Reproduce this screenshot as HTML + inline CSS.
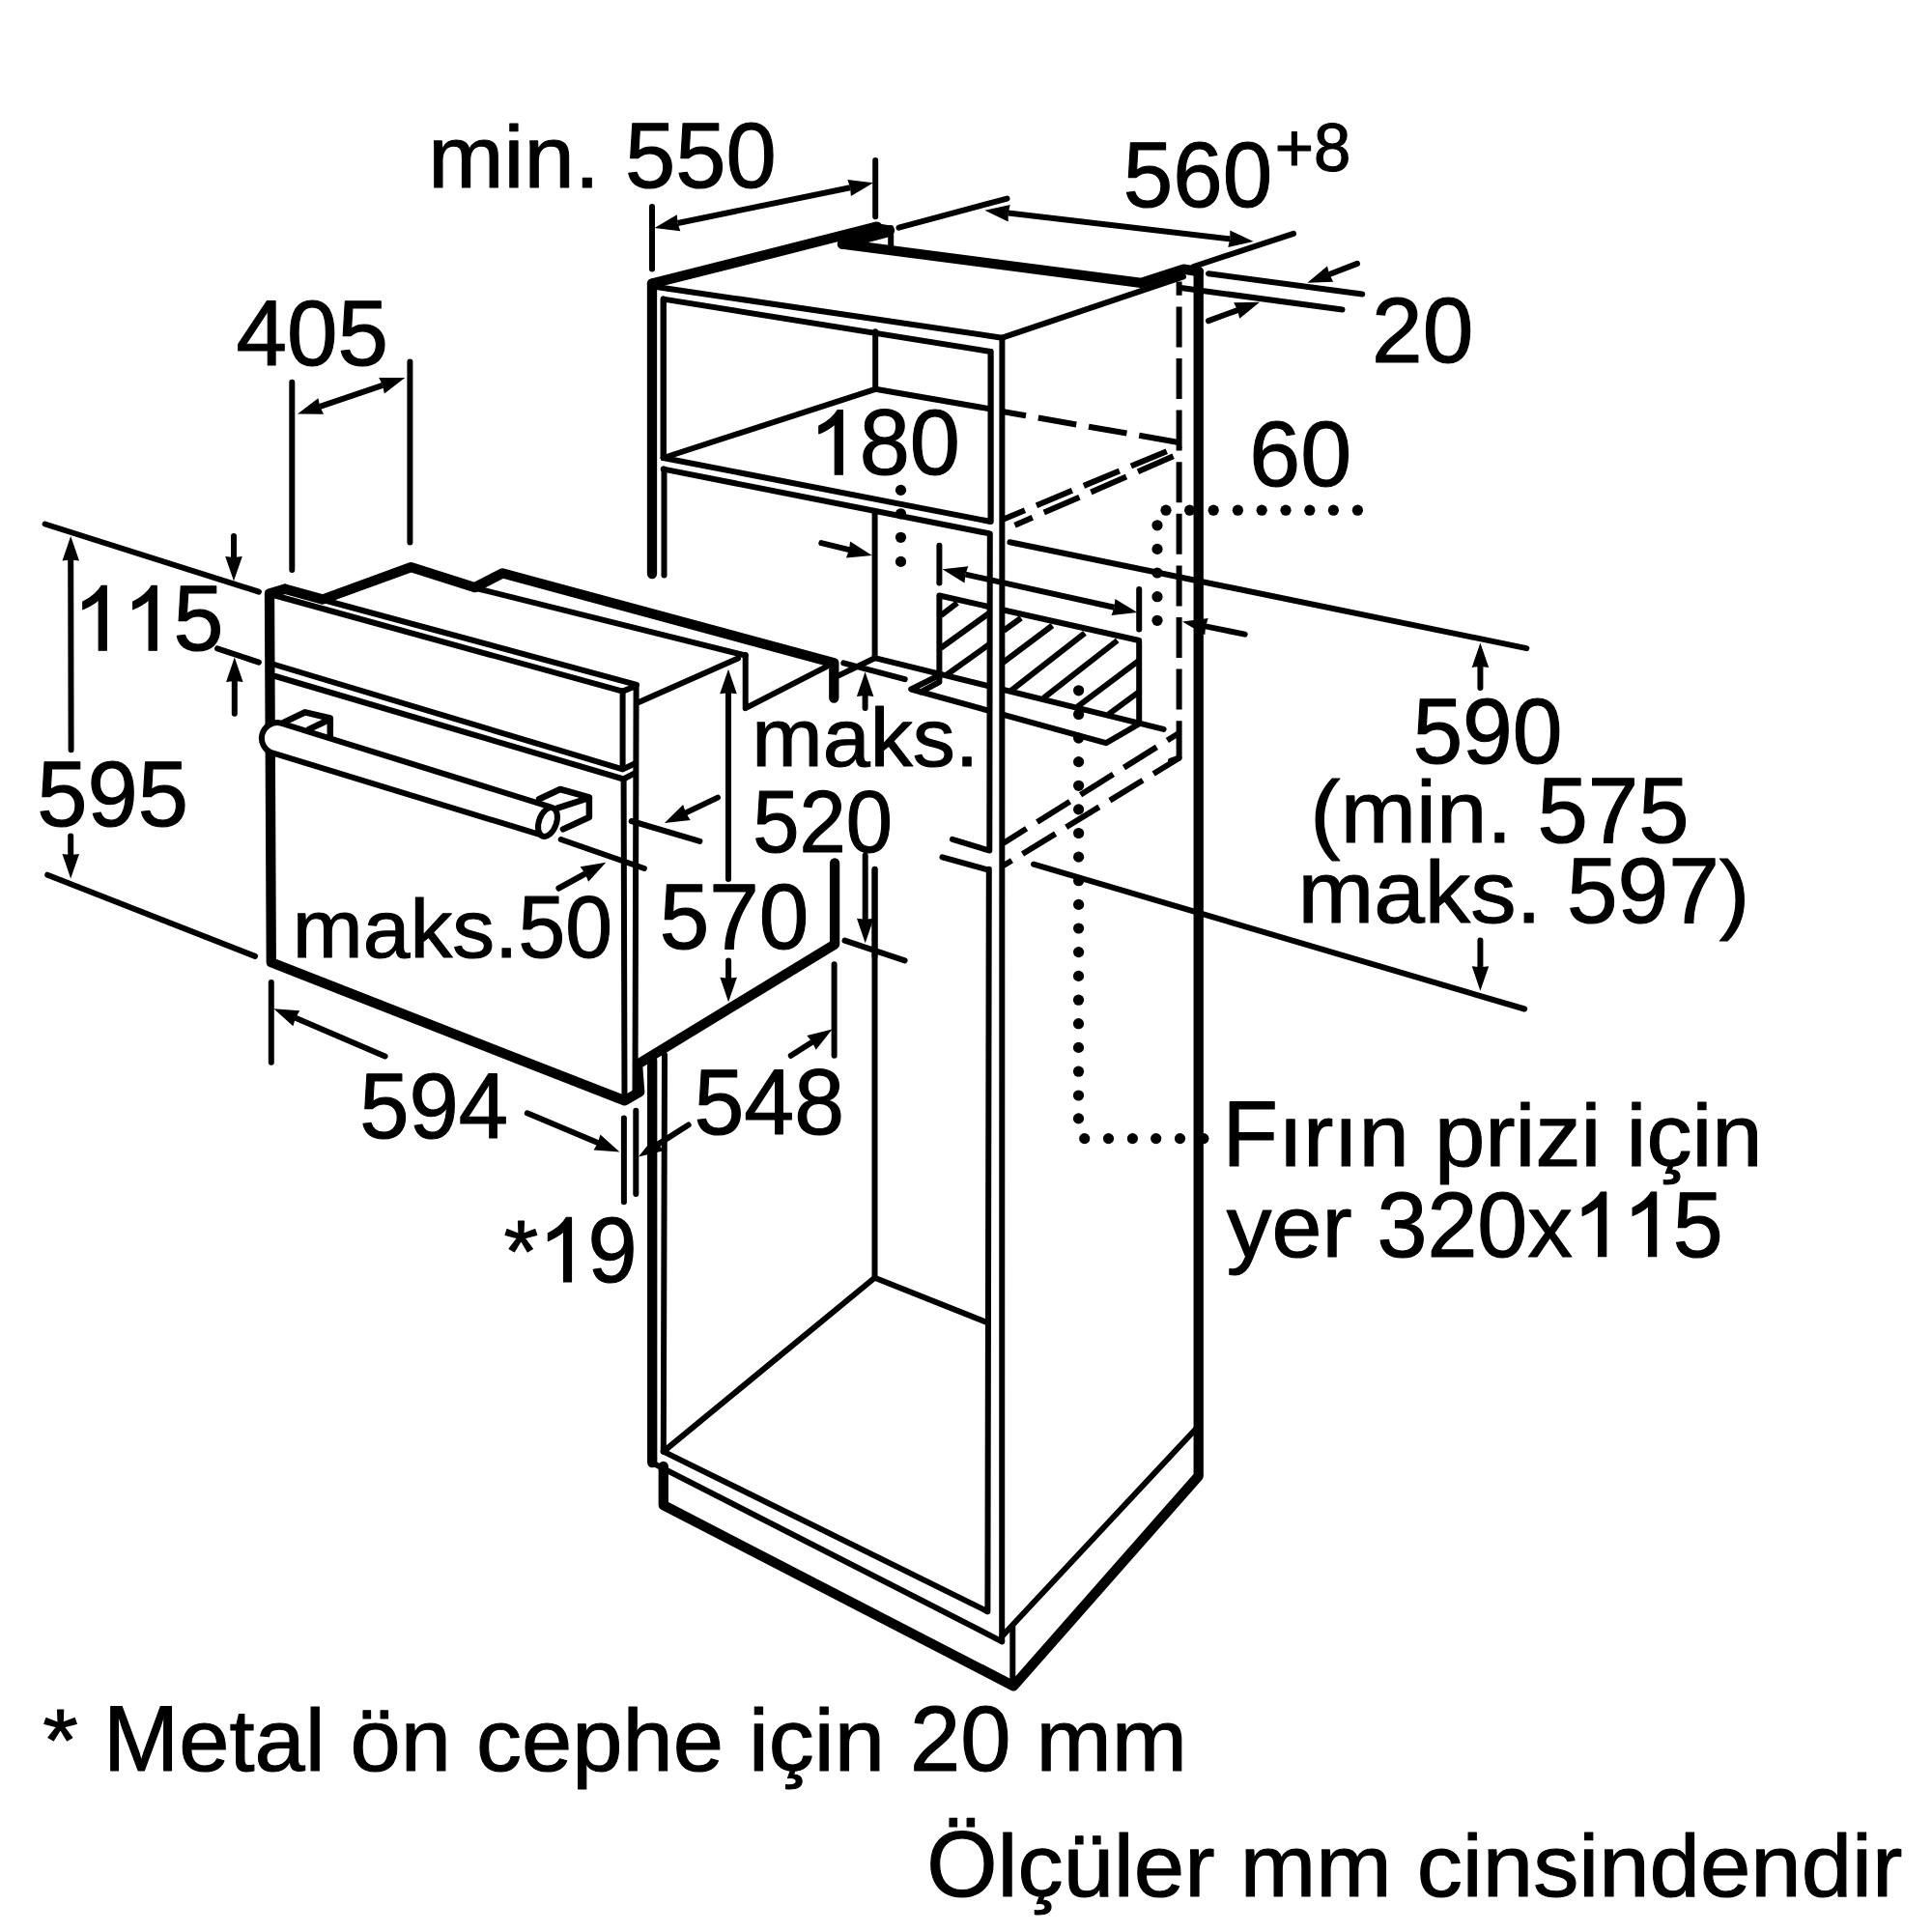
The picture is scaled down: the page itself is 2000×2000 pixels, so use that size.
<!DOCTYPE html>
<html><head><meta charset="utf-8"><title>Oven installation dimensions</title>
<style>
html,body{margin:0;padding:0;background:#fff;}
body{width:2000px;height:2000px;overflow:hidden;}
svg{display:block;}
text{font-family:"Liberation Sans",sans-serif;fill:#000;font-kerning:none;font-variant-ligatures:none;letter-spacing:0;}
</style></head><body>
<svg width="2000" height="2000" viewBox="0 0 2000 2000" stroke="#000" fill="none">
<rect x="0" y="0" width="2000" height="2000" fill="#fff" stroke="none"/>
<line x1="675" y1="293.6" x2="908" y2="234.6" stroke-width="10.3" stroke-linecap="round" />
<polyline points="872,252.7 920,240" fill="none" stroke-width="10.3" stroke-linejoin="round" stroke-linecap="round" />
<line x1="906" y1="236" x2="921" y2="238.5" stroke-width="10.3" stroke-linecap="round" />
<line x1="922.2" y1="236" x2="922.2" y2="255" stroke-width="6.0" stroke-linecap="round" />
<polyline points="872,252.7 1181.2,292.8 1225.2,278.6 1241,281.2" fill="none" stroke-width="10.3" stroke-linejoin="round" stroke-linecap="round" />
<polyline points="1240.7,281.2 1240.7,1528 1049.2,1745.3 686.8,1558.2 686.8,1518" fill="none" stroke-width="10.3" stroke-linejoin="round" stroke-linecap="round" />
<line x1="675" y1="293.6" x2="675" y2="594" stroke-width="10.3" stroke-linecap="round" />
<line x1="675.2" y1="1098" x2="675.2" y2="1514" stroke-width="10.3" stroke-linecap="round" />
<line x1="686.8" y1="309.6" x2="686.8" y2="474" stroke-width="6.0" stroke-linecap="round" />
<line x1="687.5" y1="485.6" x2="687.5" y2="595.5" stroke-width="6.0" stroke-linecap="round" />
<line x1="688" y1="1092" x2="686.8" y2="1502.6" stroke-width="6.0" stroke-linecap="round" />
<polyline points="677.6,296.7 1037.4,349.7 1225,286.3" fill="none" stroke-width="6.0" stroke-linejoin="round" stroke-linecap="round" />
<polyline points="686.7,474 686.7,309.6 1025.7,364 1025.7,540" fill="none" stroke-width="6.0" stroke-linejoin="round" stroke-linecap="round" />
<line x1="906.2" y1="343.3" x2="906.2" y2="402.8" stroke-width="6.0" stroke-linecap="round" />
<polyline points="686.7,474 906.2,402.8 1025.7,423.5" fill="none" stroke-width="6.0" stroke-linejoin="round" stroke-linecap="round" />
<line x1="1037.4" y1="426" x2="1222.6" y2="458.4" stroke-width="6.0" stroke-linecap="butt" stroke-dasharray="40 13" stroke-dashoffset="15"/>
<line x1="686.7" y1="474" x2="1025.7" y2="540" stroke-width="6.0" stroke-linecap="round" />
<line x1="686.7" y1="485.6" x2="1025.7" y2="552.6" stroke-width="6.0" stroke-linecap="round" />
<line x1="1038.8" y1="537.4" x2="1222.6" y2="461" stroke-width="6.0" stroke-linecap="butt" stroke-dasharray="40 13" stroke-dashoffset="16"/>
<line x1="1050.5" y1="543.8" x2="1222.6" y2="468.8" stroke-width="6.0" stroke-linecap="butt" stroke-dasharray="40 13" stroke-dashoffset="20"/>
<line x1="1220.6" y1="291.5" x2="1220.6" y2="784.7" stroke-width="6.0" stroke-linecap="butt" stroke-dasharray="42 11.6" stroke-dashoffset="27.7"/>
<line x1="1220.6" y1="784.7" x2="1212" y2="787.5" stroke-width="6.0" stroke-linecap="round" />
<line x1="905.6" y1="531" x2="905.6" y2="681.2" stroke-width="6.0" stroke-linecap="round" />
<line x1="905.6" y1="681.2" x2="1204.6" y2="754.9" stroke-width="6.0" stroke-linecap="round" />
<line x1="905.6" y1="681.2" x2="866" y2="700.4" stroke-width="6.0" stroke-linecap="round" />
<polyline points="972.4,699 943.2,713.5 1145,769.2 1178.7,749.7" fill="none" stroke-width="6.0" stroke-linejoin="round" stroke-linecap="round" />
<polyline points="972.4,699 972.4,706 953,716.3" fill="none" stroke-width="6.0" stroke-linejoin="round" stroke-linecap="round" />
<polyline points="972.4,701 972.4,616.5 1179.2,663 1179.2,747" fill="none" stroke-width="6.0" stroke-linejoin="round" stroke-linecap="round" />
<line x1="974" y1="637.2" x2="991" y2="624.2" stroke-width="6.0" stroke-linecap="butt" />
<line x1="974" y1="670.8" x2="1026" y2="633.3" stroke-width="6.0" stroke-linecap="butt" />
<line x1="979" y1="699.3" x2="1026" y2="665.6" stroke-width="6.0" stroke-linecap="butt" />
<line x1="1039" y1="652.7" x2="1057" y2="639.7" stroke-width="6.0" stroke-linecap="butt" />
<line x1="1037.6" y1="686.3" x2="1089.4" y2="647.5" stroke-width="6.0" stroke-linecap="butt" />
<line x1="1046.7" y1="714.8" x2="1123" y2="655.3" stroke-width="6.0" stroke-linecap="butt" />
<line x1="1080.3" y1="722.6" x2="1156.7" y2="663" stroke-width="6.0" stroke-linecap="butt" />
<line x1="1115.3" y1="731.6" x2="1179.2" y2="683.7" stroke-width="6.0" stroke-linecap="butt" />
<line x1="1147.6" y1="739.4" x2="1179.2" y2="716.1" stroke-width="6.0" stroke-linecap="butt" />
<line x1="985.9" y1="868.8" x2="1022.1" y2="879.9" stroke-width="6.0" stroke-linecap="round" />
<line x1="975.5" y1="887.4" x2="1023.4" y2="900.6" stroke-width="6.0" stroke-linecap="round" />
<line x1="1038.9" y1="872.7" x2="1220.6" y2="758.8" stroke-width="6.0" stroke-linecap="butt" stroke-dasharray="40 13" stroke-dashoffset="12"/>
<line x1="1038.9" y1="896" x2="1220.6" y2="784.7" stroke-width="6.0" stroke-linecap="butt" stroke-dasharray="40 13" stroke-dashoffset="30"/>
<line x1="905.5" y1="899.8" x2="905.5" y2="1323" stroke-width="6.0" stroke-linecap="round" />
<polyline points="686.8,1502.6 905.5,1322.7 1022.4,1369.3" fill="none" stroke-width="6.0" stroke-linejoin="round" stroke-linecap="round" />
<line x1="686.8" y1="1502.6" x2="1022.4" y2="1668.2" stroke-width="6.0" stroke-linecap="round" />
<line x1="675" y1="1514.2" x2="1037.2" y2="1699.3" stroke-width="6.0" stroke-linecap="round" />
<line x1="1037.2" y1="1694" x2="1240.7" y2="1476.2" stroke-width="6.0" stroke-linecap="round" />
<line x1="1048.3" y1="1683.7" x2="1048.3" y2="1745.8" stroke-width="6.0" stroke-linecap="round" />
<polygon points="1025,366 1037.3,351 1037.2,1699 1022.6,1667" fill="#fff" stroke="none"/>
<line x1="1037.4" y1="349.7" x2="1037.2" y2="1699.3" stroke-width="6.0" stroke-linecap="round" />
<line x1="1025.7" y1="364" x2="1025.7" y2="540" stroke-width="6.0" stroke-linecap="round" />
<line x1="1024.8" y1="552.6" x2="1024.3" y2="880.4" stroke-width="6.0" stroke-linecap="round" />
<line x1="1023.8" y1="899.8" x2="1022.4" y2="1668.2" stroke-width="6.0" stroke-linecap="round" />
<polyline points="295,609.7 279,614.5 280.8,996.3 646.7,1139.4 662.2,1130.3 660,1101.9 864.1,977.6 864.1,893.4" fill="none" stroke-width="10.3" stroke-linejoin="round" stroke-linecap="round" />
<polyline points="295,609.7 334,620.5 425.5,587.2 491.5,608.1 520.2,593.4 863.3,686.3 863.3,722.6" fill="none" stroke-width="10.3" stroke-linejoin="round" stroke-linecap="round" />
<line x1="331" y1="620" x2="659" y2="708.8" stroke-width="6.0" stroke-linecap="round" />
<line x1="283" y1="616" x2="644.5" y2="715.6" stroke-width="6.0" stroke-linecap="round" />
<line x1="644.5" y1="715.6" x2="658" y2="710.2" stroke-width="6.0" stroke-linecap="round" />
<line x1="658.6" y1="709.5" x2="657.5" y2="1132" stroke-width="6.0" stroke-linecap="round" />
<line x1="644.6" y1="715.6" x2="644.6" y2="796" stroke-width="6.0" stroke-linecap="round" />
<line x1="645.6" y1="807" x2="646.5" y2="1138" stroke-width="6.0" stroke-linecap="round" />
<polyline points="281,687 644.6,796.4 657.5,790.2" fill="none" stroke-width="6.0" stroke-linejoin="round" stroke-linecap="round" />
<polyline points="285,700 645.4,806.5 657.5,800.2" fill="none" stroke-width="6.0" stroke-linejoin="round" stroke-linecap="round" />
<line x1="493" y1="609" x2="771.7" y2="678.5" stroke-width="6.0" stroke-linecap="round" />
<polyline points="660.6,727.3 764,681.5" fill="none" stroke-width="6.0" stroke-linejoin="round" stroke-linecap="round" />
<polyline points="771.7,678 771.7,733.2 855.5,690.2" fill="none" stroke-width="6.0" stroke-linejoin="round" stroke-linecap="round" />
<polyline points="294.2,747.6 315.9,737.3 341.8,743.5 341.8,762.1" fill="none" stroke-width="6.5" stroke-linejoin="round" stroke-linecap="round" />
<polyline points="320,754.9 341.8,744.5" fill="none" stroke-width="6.5" stroke-linejoin="round" stroke-linecap="round" />
<polyline points="558.1,827.3 579.9,817 609.9,825.3 609.9,846 583,858.4" fill="none" stroke-width="6.5" stroke-linejoin="round" stroke-linecap="round" />
<polyline points="576.8,836.6 609.9,826" fill="none" stroke-width="6.5" stroke-linejoin="round" stroke-linecap="round" />
<path d="M291.1,748.7 L570.6,835.6 L564.3,865.6 L282.8,779.7 A16,16 0 0 1 291.1,748.7 Z" stroke-width="6" fill="#fff" stroke-linejoin="round"/>
<ellipse cx="567" cy="851" rx="9" ry="15.5" transform="rotate(20 567 851)" stroke-width="6" fill="#fff"/>
<line x1="675" y1="213.9" x2="675" y2="278.6" stroke-width="6.0" stroke-linecap="round" />
<line x1="906.2" y1="166" x2="906.2" y2="224.2" stroke-width="6.0" stroke-linecap="round" />
<polygon points="677.6,235.9 700.8,222.2 701.6,231.0 704.3,239.3" fill="#000" stroke="none"/>
<polygon points="904.1,189.3 880.9,203.0 880.1,194.2 877.4,185.9" fill="#000" stroke="none"/>
<line x1="701.6" y1="231.0" x2="880.1" y2="194.2" stroke-width="6.0" stroke-linecap="butt" />
<line x1="930.5" y1="235.6" x2="1042.5" y2="205.6" stroke-width="6.0" stroke-linecap="round" />
<line x1="1235.5" y1="276" x2="1339" y2="241.8" stroke-width="6.0" stroke-linecap="round" />
<polygon points="1019.4,217.8 1045.7,212.0 1043.7,220.6 1043.7,229.4" fill="#000" stroke="none"/>
<polygon points="1297.6,250.1 1271.3,255.9 1273.3,247.3 1273.3,238.5" fill="#000" stroke="none"/>
<line x1="1043.7" y1="220.6" x2="1273.3" y2="247.3" stroke-width="6.0" stroke-linecap="butt" />
<line x1="1251" y1="283.2" x2="1410.2" y2="304.5" stroke-width="6.0" stroke-linecap="round" />
<line x1="1222.6" y1="298" x2="1389.5" y2="320.5" stroke-width="6.0" stroke-linecap="round" />
<polygon points="1353.3,292.8 1374.0,275.5 1376.2,284.0 1380.2,291.8" fill="#000" stroke="none"/>
<line x1="1405" y1="272.9" x2="1376.2" y2="284.0" stroke-width="6.0" stroke-linecap="round" />
<polygon points="1304.1,312.7 1283.2,329.7 1281.1,321.1 1277.1,313.2" fill="#000" stroke="none"/>
<line x1="1251" y1="332.1" x2="1281.1" y2="321.1" stroke-width="6.0" stroke-linecap="round" />
<line x1="302.3" y1="395.8" x2="302.3" y2="589.9" stroke-width="6.0" stroke-linecap="round" />
<line x1="424.4" y1="374.5" x2="424.4" y2="561.4" stroke-width="6.0" stroke-linecap="round" />
<polygon points="308.0,428.6 329.4,412.2 331.2,420.8 335.0,428.8" fill="#000" stroke="none"/>
<polygon points="419.3,391.1 397.9,407.5 396.1,398.9 392.3,390.9" fill="#000" stroke="none"/>
<line x1="331.2" y1="420.8" x2="396.1" y2="398.9" stroke-width="6.0" stroke-linecap="butt" />
<line x1="46.6" y1="542.5" x2="267.9" y2="612.6" stroke-width="6.0" stroke-linecap="round" />
<line x1="49.2" y1="905.7" x2="264" y2="989.9" stroke-width="6.0" stroke-linecap="round" />
<polygon points="73.2,555.0 82.0,580.5 73.2,579.5 64.5,580.5" fill="#000" stroke="none"/>
<line x1="73.6" y1="776.3" x2="73.2" y2="579.5" stroke-width="6.0" stroke-linecap="round" />
<polygon points="73.2,909.6 64.5,884.1 73.2,885.1 82.0,884.1" fill="#000" stroke="none"/>
<line x1="73.2" y1="865.6" x2="73.2" y2="885.1" stroke-width="6.0" stroke-linecap="round" />
<polygon points="242.0,601.5 233.2,576.0 242.0,577.0 250.8,576.0" fill="#000" stroke="none"/>
<line x1="242" y1="555" x2="242.0" y2="577.0" stroke-width="6.0" stroke-linecap="round" />
<line x1="225" y1="671.4" x2="267.9" y2="685.6" stroke-width="6.0" stroke-linecap="round" />
<polygon points="242.8,680.4 251.6,705.9 242.8,704.9 234.1,705.9" fill="#000" stroke="none"/>
<line x1="242.8" y1="738.7" x2="242.8" y2="704.9" stroke-width="6.0" stroke-linecap="round" />
<polygon points="902.8,574.9 876.0,577.4 879.0,569.1 880.1,560.4" fill="#000" stroke="none"/>
<line x1="850.3" y1="562.1" x2="879.0" y2="569.1" stroke-width="6.0" stroke-linecap="round" />
<circle cx="932.5" cy="507.4" r="5.6" fill="#000" stroke="none"/>
<circle cx="932.5" cy="531.8" r="5.6" fill="#000" stroke="none"/>
<circle cx="932.5" cy="556.3" r="5.6" fill="#000" stroke="none"/>
<circle cx="932.5" cy="581.4" r="5.6" fill="#000" stroke="none"/>
<line x1="972.4" y1="564.7" x2="972.4" y2="603.5" stroke-width="6.0" stroke-linecap="round" />
<line x1="1179.2" y1="610" x2="1179.2" y2="651.4" stroke-width="6.0" stroke-linecap="round" />
<polygon points="975.5,589.3 1002.3,586.3 999.4,594.6 998.5,603.4" fill="#000" stroke="none"/>
<polygon points="1177.4,634.1 1150.6,637.1 1153.5,628.8 1154.4,620.0" fill="#000" stroke="none"/>
<line x1="999.4" y1="594.6" x2="1153.5" y2="628.8" stroke-width="6.0" stroke-linecap="butt" />
<circle cx="1207" cy="528.2" r="5.6" fill="#000" stroke="none"/>
<circle cx="1231.6" cy="528.2" r="5.6" fill="#000" stroke="none"/>
<circle cx="1256.2" cy="528.2" r="5.6" fill="#000" stroke="none"/>
<circle cx="1281.4" cy="528.2" r="5.6" fill="#000" stroke="none"/>
<circle cx="1306.2" cy="528.2" r="5.6" fill="#000" stroke="none"/>
<circle cx="1331" cy="528.2" r="5.6" fill="#000" stroke="none"/>
<circle cx="1355.8" cy="528.2" r="5.6" fill="#000" stroke="none"/>
<circle cx="1380.4" cy="528.2" r="5.6" fill="#000" stroke="none"/>
<circle cx="1405.4" cy="528.2" r="5.6" fill="#000" stroke="none"/>
<circle cx="1198" cy="543.8" r="5.6" fill="#000" stroke="none"/>
<circle cx="1198" cy="568.4" r="5.6" fill="#000" stroke="none"/>
<circle cx="1198" cy="593" r="5.6" fill="#000" stroke="none"/>
<circle cx="1198" cy="617.7" r="5.6" fill="#000" stroke="none"/>
<circle cx="1198" cy="642.3" r="5.6" fill="#000" stroke="none"/>
<polygon points="1224.0,643.6 1250.7,640.0 1248.0,648.4 1247.3,657.2" fill="#000" stroke="none"/>
<line x1="1288.7" y1="656.6" x2="1248.0" y2="648.4" stroke-width="6.0" stroke-linecap="round" />
<line x1="1045.4" y1="561.3" x2="1580.3" y2="671.1" stroke-width="6.0" stroke-linecap="round" />
<line x1="1070" y1="894.7" x2="1578.2" y2="1044.5" stroke-width="6.0" stroke-linecap="round" />
<polygon points="1532.4,665.4 1541.2,690.9 1532.4,689.9 1523.7,690.9" fill="#000" stroke="none"/>
<line x1="1532.4" y1="712" x2="1532.4" y2="689.9" stroke-width="6.0" stroke-linecap="round" />
<polygon points="1532.4,1025.7 1523.7,1000.2 1532.4,1001.2 1541.2,1000.2" fill="#000" stroke="none"/>
<line x1="1532.4" y1="973.4" x2="1532.4" y2="1001.2" stroke-width="6.0" stroke-linecap="round" />
<circle cx="1116.6" cy="714.8" r="5.6" fill="#000" stroke="none"/>
<circle cx="1116.6" cy="739.42" r="5.6" fill="#000" stroke="none"/>
<circle cx="1116.6" cy="764.04" r="5.6" fill="#000" stroke="none"/>
<circle cx="1116.6" cy="788.66" r="5.6" fill="#000" stroke="none"/>
<circle cx="1116.6" cy="813.28" r="5.6" fill="#000" stroke="none"/>
<circle cx="1116.6" cy="837.9" r="5.6" fill="#000" stroke="none"/>
<circle cx="1116.6" cy="862.52" r="5.6" fill="#000" stroke="none"/>
<circle cx="1116.6" cy="887.14" r="5.6" fill="#000" stroke="none"/>
<circle cx="1116.6" cy="911.76" r="5.6" fill="#000" stroke="none"/>
<circle cx="1116.6" cy="936.38" r="5.6" fill="#000" stroke="none"/>
<circle cx="1116.6" cy="961.0" r="5.6" fill="#000" stroke="none"/>
<circle cx="1116.6" cy="985.6199999999999" r="5.6" fill="#000" stroke="none"/>
<circle cx="1116.5" cy="1010.4" r="5.6" fill="#000" stroke="none"/>
<circle cx="1116.5" cy="1035.2" r="5.6" fill="#000" stroke="none"/>
<circle cx="1116.5" cy="1059.7" r="5.6" fill="#000" stroke="none"/>
<circle cx="1116.5" cy="1084.4" r="5.6" fill="#000" stroke="none"/>
<circle cx="1116.5" cy="1109.2" r="5.6" fill="#000" stroke="none"/>
<circle cx="1116.5" cy="1134" r="5.6" fill="#000" stroke="none"/>
<circle cx="1116.5" cy="1157.9" r="5.6" fill="#000" stroke="none"/>
<circle cx="1122.7" cy="1178.6" r="5.6" fill="#000" stroke="none"/>
<circle cx="1147.5" cy="1178.6" r="5.6" fill="#000" stroke="none"/>
<circle cx="1172.4" cy="1178.6" r="5.6" fill="#000" stroke="none"/>
<circle cx="1196.7" cy="1178.6" r="5.6" fill="#000" stroke="none"/>
<circle cx="1221.5" cy="1178.6" r="5.6" fill="#000" stroke="none"/>
<circle cx="1245.9" cy="1178.6" r="5.6" fill="#000" stroke="none"/>
<polygon points="754.0,692.8 762.8,718.3 754.0,717.3 745.2,718.3" fill="#000" stroke="none"/>
<line x1="754" y1="905" x2="754.0" y2="717.3" stroke-width="6.0" stroke-linecap="round" />
<line x1="754" y1="900" x2="754" y2="910" stroke-width="6.0" stroke-linecap="round" />
<polygon points="754.1,1037.2 745.4,1011.7 754.1,1012.7 762.9,1011.7" fill="#000" stroke="none"/>
<line x1="754.1" y1="994.5" x2="754.1" y2="1012.7" stroke-width="6.0" stroke-linecap="round" />
<polygon points="687.9,852.0 707.1,833.1 710.0,841.4 714.7,848.9" fill="#000" stroke="none"/>
<line x1="743" y1="825.6" x2="710.0" y2="841.4" stroke-width="6.0" stroke-linecap="round" />
<line x1="653.7" y1="850" x2="724.4" y2="870.9" stroke-width="6.0" stroke-linecap="round" />
<line x1="580.7" y1="869" x2="666.9" y2="899" stroke-width="6.0" stroke-linecap="round" />
<polygon points="627.3,892.8 609.1,912.7 605.8,904.5 600.7,897.3" fill="#000" stroke="none"/>
<line x1="578.4" y1="919.5" x2="605.8" y2="904.5" stroke-width="6.0" stroke-linecap="round" />
<line x1="873.3" y1="686.3" x2="936.7" y2="703.2" stroke-width="6.0" stroke-linecap="round" />
<polygon points="895.6,695.4 904.4,720.9 895.6,719.9 886.9,720.9" fill="#000" stroke="none"/>
<line x1="895.6" y1="733" x2="895.6" y2="719.9" stroke-width="6.0" stroke-linecap="round" />
<line x1="874.5" y1="973.7" x2="936.6" y2="994.4" stroke-width="6.0" stroke-linecap="round" />
<polygon points="895.7,976.2 887.0,950.7 895.7,951.7 904.5,950.7" fill="#000" stroke="none"/>
<line x1="895.7" y1="885.6" x2="895.7" y2="951.7" stroke-width="6.0" stroke-linecap="round" />
<line x1="905.6" y1="900" x2="905.6" y2="990" stroke-width="6.0" stroke-linecap="round" />
<line x1="280.8" y1="1017" x2="280.8" y2="1099.8" stroke-width="6.0" stroke-linecap="round" />
<polygon points="283.4,1044.2 310.3,1046.2 305.9,1053.8 303.4,1062.3" fill="#000" stroke="none"/>
<line x1="398.6" y1="1093.4" x2="305.9" y2="1053.8" stroke-width="6.0" stroke-linecap="round" />
<polygon points="641.5,1192.4 614.6,1190.6 618.9,1182.9 621.4,1174.5" fill="#000" stroke="none"/>
<line x1="545.8" y1="1152.3" x2="618.9" y2="1182.9" stroke-width="6.0" stroke-linecap="round" />
<line x1="863.6" y1="998.3" x2="863.6" y2="1092.8" stroke-width="6.0" stroke-linecap="round" />
<polygon points="861.5,1065.6 844.7,1086.7 840.8,1078.8 835.3,1071.9" fill="#000" stroke="none"/>
<line x1="818.8" y1="1092.8" x2="840.8" y2="1078.8" stroke-width="6.0" stroke-linecap="round" />
<polygon points="660.9,1197.6 677.7,1176.5 681.5,1184.4 687.1,1191.2" fill="#000" stroke="none"/>
<line x1="712.7" y1="1164.5" x2="681.5" y2="1184.4" stroke-width="6.0" stroke-linecap="round" />
<line x1="645.9" y1="1157.5" x2="645.9" y2="1244.2" stroke-width="6.0" stroke-linecap="round" />
<line x1="658.3" y1="1149.7" x2="658.3" y2="1235.9" stroke-width="6.0" stroke-linecap="round" />
<text transform="translate(443.31,194.2) scale(1.0072,0.977)" font-size="93.3" stroke="#000" stroke-width="1.1" stroke-linejoin="round" xml:space="preserve">min. </text>
<text transform="translate(646.94,194.2) scale(1.0072,1.04)" font-size="93.3" stroke="#000" stroke-width="1.1" stroke-linejoin="round" xml:space="preserve">550</text>
<text transform="translate(244.38,377.6) scale(1.0120,1.04)" font-size="93.3" stroke="#000" stroke-width="1.1" stroke-linejoin="round" xml:space="preserve">405</text>
<text transform="translate(1162.85,213.5) scale(0.9913,1.04)" font-size="93.3" stroke="#000" stroke-width="1.1" stroke-linejoin="round" xml:space="preserve">560</text>
<text transform="translate(1319.69,177.0) scale(1.0284,1.04)" font-size="67" stroke="#000" stroke-width="1.1" stroke-linejoin="round" xml:space="preserve">+8</text>
<text transform="translate(1420.09,375.0) scale(1.0142,1.04)" font-size="93.3" stroke="#000" stroke-width="1.1" stroke-linejoin="round" xml:space="preserve">20</text>
<path transform="translate(837.55,491.3) scale(0.04576,-0.04556)" d="M763 0H583V1147Q518 1085 412.5 1023T223 930V1104Q373 1174.5 485 1275T644 1466H763Z" fill="#000" stroke="#000" stroke-width="24.1" stroke-linejoin="round"/>
<text transform="translate(889.67,491.3) scale(1.0045,1.04)" font-size="93.3" stroke="#000" stroke-width="1.1" stroke-linejoin="round" xml:space="preserve">80</text>
<text transform="translate(1293.32,503.3) scale(1.0200,1.04)" font-size="93.3" stroke="#000" stroke-width="1.1" stroke-linejoin="round" xml:space="preserve">60</text>
<path transform="translate(75.58,673.2) scale(0.04559,-0.04556)" d="M763 0H583V1147Q518 1085 412.5 1023T223 930V1104Q373 1174.5 485 1275T644 1466H763Z" fill="#000" stroke="#000" stroke-width="24.1" stroke-linejoin="round"/>
<path transform="translate(127.51,673.2) scale(0.04559,-0.04556)" d="M763 0H583V1147Q518 1085 412.5 1023T223 930V1104Q373 1174.5 485 1275T644 1466H763Z" fill="#000" stroke="#000" stroke-width="24.1" stroke-linejoin="round"/>
<text transform="translate(179.44,673.2) scale(1.0008,1.04)" font-size="93.3" stroke="#000" stroke-width="1.1" stroke-linejoin="round" xml:space="preserve">5</text>
<text transform="translate(38.19,855.0) scale(1.0067,1.04)" font-size="93.3" stroke="#000" stroke-width="1.1" stroke-linejoin="round" xml:space="preserve">595</text>
<text transform="translate(778.20,792.8) scale(1.0191,0.977)" font-size="86.5" stroke="#000" stroke-width="1.1" stroke-linejoin="round" xml:space="preserve">maks.</text>
<text transform="translate(779.28,882.2) scale(1.0016,1.04)" font-size="86.5" stroke="#000" stroke-width="1.1" stroke-linejoin="round" xml:space="preserve">520</text>
<text transform="translate(682.84,982.4) scale(0.9927,1.04)" font-size="93.3" stroke="#000" stroke-width="1.1" stroke-linejoin="round" xml:space="preserve">570</text>
<text transform="translate(302.73,991) scale(1.0129,0.977)" font-size="86.5" stroke="#000" stroke-width="1.1" stroke-linejoin="round" xml:space="preserve">maks.</text>
<text transform="translate(536.41,991) scale(1.0129,1.04)" font-size="86.5" stroke="#000" stroke-width="1.1" stroke-linejoin="round" xml:space="preserve">50</text>
<text transform="translate(372.16,1178.2) scale(0.9879,1.04)" font-size="93.3" stroke="#000" stroke-width="1.1" stroke-linejoin="round" xml:space="preserve">594</text>
<text transform="translate(718.52,1174.3) scale(0.9988,1.04)" font-size="93.3" stroke="#000" stroke-width="1.1" stroke-linejoin="round" xml:space="preserve">548</text>
<text transform="translate(521.57,1327) scale(0.9846,0.977)" font-size="93.3" stroke="#000" stroke-width="1.1" stroke-linejoin="round" xml:space="preserve">*</text>
<path transform="translate(557.32,1327) scale(0.04486,-0.04556)" d="M763 0H583V1147Q518 1085 412.5 1023T223 930V1104Q373 1174.5 485 1275T644 1466H763Z" fill="#000" stroke="#000" stroke-width="24.1" stroke-linejoin="round"/>
<text transform="translate(608.41,1327) scale(0.9846,1.04)" font-size="93.3" stroke="#000" stroke-width="1.1" stroke-linejoin="round" xml:space="preserve">9</text>
<text transform="translate(1462.43,789.6) scale(0.9960,1.04)" font-size="93.3" stroke="#000" stroke-width="1.1" stroke-linejoin="round" xml:space="preserve">590</text>
<text transform="translate(1356.32,872.4) scale(1.0084,0.977)" font-size="93.3" stroke="#000" stroke-width="1.1" stroke-linejoin="round" xml:space="preserve">(min. </text>
<text transform="translate(1591.53,872.4) scale(1.0084,1.04)" font-size="93.3" stroke="#000" stroke-width="1.1" stroke-linejoin="round" xml:space="preserve">575</text>
<text transform="translate(1343.47,955.3) scale(1.0138,0.977)" font-size="93.3" stroke="#000" stroke-width="1.1" stroke-linejoin="round" xml:space="preserve">maks. </text>
<text transform="translate(1622.01,955.3) scale(1.0138,1.04)" font-size="93.3" stroke="#000" stroke-width="1.1" stroke-linejoin="round" xml:space="preserve">597</text>
<text transform="translate(1779.82,955.3) scale(1.0138,0.977)" font-size="93.3" stroke="#000" stroke-width="1.1" stroke-linejoin="round" xml:space="preserve">)</text>
<text transform="translate(1265.43,1207.1) scale(1.0083,1.04)" font-size="93.3" stroke="#000" stroke-width="1.1" stroke-linejoin="round" xml:space="preserve">F</text>
<text transform="translate(1322.90,1207.1) scale(1.0083,0.977)" font-size="93.3" stroke="#000" stroke-width="1.1" stroke-linejoin="round" xml:space="preserve">ırın prizi için</text>
<text transform="translate(1269.82,1300.8) scale(1.0008,0.977)" font-size="93.3" stroke="#000" stroke-width="1.1" stroke-linejoin="round" xml:space="preserve">yer </text>
<text transform="translate(1425.48,1300.8) scale(1.0008,1.04)" font-size="93.3" stroke="#000" stroke-width="1.1" stroke-linejoin="round" xml:space="preserve">320</text>
<text transform="translate(1581.28,1300.8) scale(1.0008,0.977)" font-size="93.3" stroke="#000" stroke-width="1.1" stroke-linejoin="round" xml:space="preserve">x</text>
<path transform="translate(1627.97,1300.8) scale(0.04560,-0.04556)" d="M763 0H583V1147Q518 1085 412.5 1023T223 930V1104Q373 1174.5 485 1275T644 1466H763Z" fill="#000" stroke="#000" stroke-width="24.1" stroke-linejoin="round"/>
<path transform="translate(1679.91,1300.8) scale(0.04560,-0.04556)" d="M763 0H583V1147Q518 1085 412.5 1023T223 930V1104Q373 1174.5 485 1275T644 1466H763Z" fill="#000" stroke="#000" stroke-width="24.1" stroke-linejoin="round"/>
<text transform="translate(1731.84,1300.8) scale(1.0008,1.04)" font-size="93.3" stroke="#000" stroke-width="1.1" stroke-linejoin="round" xml:space="preserve">5</text>
<text transform="translate(44.34,1832.8) scale(1.0064,0.977)" font-size="93.3" stroke="#000" stroke-width="1.1" stroke-linejoin="round" xml:space="preserve">* </text>
<text transform="translate(106.96,1832.8) scale(1.0064,1.04)" font-size="93.3" stroke="#000" stroke-width="1.1" stroke-linejoin="round" xml:space="preserve">M</text>
<text transform="translate(185.18,1832.8) scale(1.0064,0.977)" font-size="93.3" stroke="#000" stroke-width="1.1" stroke-linejoin="round" xml:space="preserve">etal ön cephe için </text>
<text transform="translate(942.08,1832.8) scale(1.0064,1.04)" font-size="93.3" stroke="#000" stroke-width="1.1" stroke-linejoin="round" xml:space="preserve">20 </text>
<text transform="translate(1072.61,1832.8) scale(1.0064,0.977)" font-size="93.3" stroke="#000" stroke-width="1.1" stroke-linejoin="round" xml:space="preserve">mm</text>
<text transform="translate(959.19,1962.5) scale(1.0096,1.04)" font-size="93.3" stroke="#000" stroke-width="1.1" stroke-linejoin="round" xml:space="preserve">Ö</text>
<text transform="translate(1032.46,1962.5) scale(1.0096,0.977)" font-size="93.3" stroke="#000" stroke-width="1.1" stroke-linejoin="round" xml:space="preserve">lçüler mm cinsindendir</text>
</svg>
</body></html>
